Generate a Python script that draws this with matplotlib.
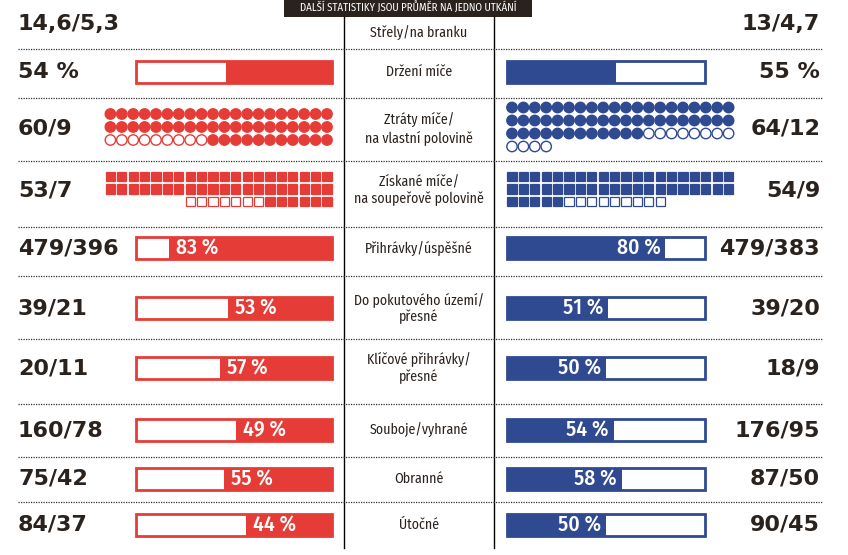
import matplotlib
matplotlib.use("Agg")
import matplotlib.pyplot as plt
import matplotlib.patches as patches

RED = "#e63c37"
BLUE = "#2f4a91"
DARK = "#2a221d"

NARROW = ["Fira Sans Condensed", "Roboto Condensed", "DejaVu Sans"]

header = "DALŠÍ STATISTIKY JSOU PRŮMĚR NA JEDNO UTKÁNÍ"

labels = ["Střely/na branku", "Držení míče", "Ztráty míče/\nna vlastní polovině",
          "Získané míče/\nna soupeřově polovině", "Přihrávky/úspěšné",
          "Do pokutového území/\npřesné", "Klíčové přihrávky/\npřesné",
          "Souboje/vyhrané", "Obranné", "Útočné"]
left_text = ["14,6/5,3", "54 %", "60/9", "53/7", "479/396", "39/21", "20/11",
             "160/78", "75/42", "84/37"]
right_text = ["13/4,7", "55 %", "64/12", "54/9", "479/383", "39/20", "18/9",
              "176/95", "87/50", "90/45"]
kinds = ["none", "bar", "dots", "squares", "bar", "bar", "bar", "bar", "bar", "bar"]

# percentages for the bar rows
left_pct = [None, 54, None, None, 83, 53, 57, 49, 55, 44]
right_pct = [None, 55, None, None, 80, 51, 50, 54, 58, 50]
show_pct = [False, False, False, False, True, True, True, True, True, True]

# (total, hollow) for the dot / square rows
left_counts = {2: (60, 9), 3: (53, 7)}
right_counts = {2: (64, 12), 3: (54, 9)}

# layout in pixels
row_y = [24, 72, 128, 190, 248, 308, 368, 430, 479, 525]
sep_y = [49, 98, 161, 227, 276, 339, 404, 457, 502]
col1, col2 = 344, 494
lbar = (136, 332)
rbar = (507, 705)
bar_h = 22
per_row = 20
step = 11.4


def draw_bar(ax, y, x0, x1, pct, color, side, show):
    w = x1 - x0
    ax.add_patch(patches.Rectangle((x0, y - bar_h / 2), w, bar_h, facecolor="white",
                                   edgecolor=color, lw=2, zorder=2))
    fw = w * pct / 100.0
    if side == "left":
        fx = x1 - fw
        ax.add_patch(patches.Rectangle((fx, y - bar_h / 2), fw, bar_h, facecolor=color,
                                       edgecolor="none", zorder=3))
        if show:
            ax.text(fx + 7, y, "%d %%" % pct, color="white", fontsize=15.5,
                    fontweight="medium", ha="left", va="center", zorder=4,
                    family=NARROW, fontstretch="condensed")
    else:
        ax.add_patch(patches.Rectangle((x0, y - bar_h / 2), fw, bar_h, facecolor=color,
                                       edgecolor="none", zorder=3))
        if show:
            ax.text(x0 + fw - 5, y, "%d %%" % pct, color="white", fontsize=15.5,
                    fontweight="medium", ha="right", va="center", zorder=4,
                    family=NARROW, fontstretch="condensed")


def draw_units(ax, yc, total, hollow, color, side, shape):
    nrows = (total + per_row - 1) // per_row
    dy = 13 if shape == "dot" else 12.5
    y0 = yc - (nrows - 1) * dy / 2
    for i in range(total):
        r = i // per_row
        c = i % per_row
        filled = i < total - hollow
        if side == "left":
            # filled from the right edge
            x = lbar[1] - 5 - c * step
        else:
            x = rbar[0] + 5 + c * step
        y = y0 + r * dy
        fc = color if filled else "white"
        if shape == "dot":
            p = patches.Circle((x, y), 5.2, facecolor=fc, edgecolor=color, lw=1)
        else:
            p = patches.Rectangle((x - 4.6, y - 4.6), 9.2, 9.2, facecolor=fc,
                                  edgecolor=color, lw=0.9)
        ax.add_patch(p)


fig = plt.figure(figsize=(8.48, 5.55), dpi=100)
ax = fig.add_axes([0, 0, 1, 1])
ax.set_xlim(0, 848)
ax.set_ylim(555, 0)
ax.axis("off")

# header box
ax.add_patch(patches.Rectangle((284, 0), 248, 17, facecolor=DARK, edgecolor="none"))
ax.text(408, 8.5, header, color="white", fontsize=7.8, ha="center", va="center",
        family=NARROW, fontstretch="condensed")

# grid lines
ax.plot([col1, col1], [17, 548], color="black", lw=1)
ax.plot([col2, col2], [17, 548], color="black", lw=1)
for y in sep_y:
    ax.plot([18, 822], [y, y], color="#333333", lw=0.9, ls=(0, (1, 1)))

for i, lab in enumerate(labels):
    y = row_y[i]
    ly = 33 if i == 0 else y
    ax.text((col1 + col2) / 2, ly, lab, fontsize=10, ha="center", va="center",
            color=DARK, family=NARROW, fontstretch="condensed", linespacing=1.25)
    ax.text(18, y, left_text[i], fontsize=16, fontweight="bold", ha="left",
            va="center", color=DARK)
    ax.text(820, y, right_text[i], fontsize=16, fontweight="bold", ha="right",
            va="center", color=DARK)
    if kinds[i] == "bar":
        draw_bar(ax, y, lbar[0], lbar[1], left_pct[i], RED, "left", show_pct[i])
        draw_bar(ax, y, rbar[0], rbar[1], right_pct[i], BLUE, "right", show_pct[i])
    elif kinds[i] in ("dots", "squares"):
        shape = "dot" if kinds[i] == "dots" else "square"
        t, h = left_counts[i]
        draw_units(ax, y - 1, t, h, RED, "left", shape)
        t, h = right_counts[i]
        draw_units(ax, y - 1, t, h, BLUE, "right", shape)

fig.savefig("out.png", dpi=100)
